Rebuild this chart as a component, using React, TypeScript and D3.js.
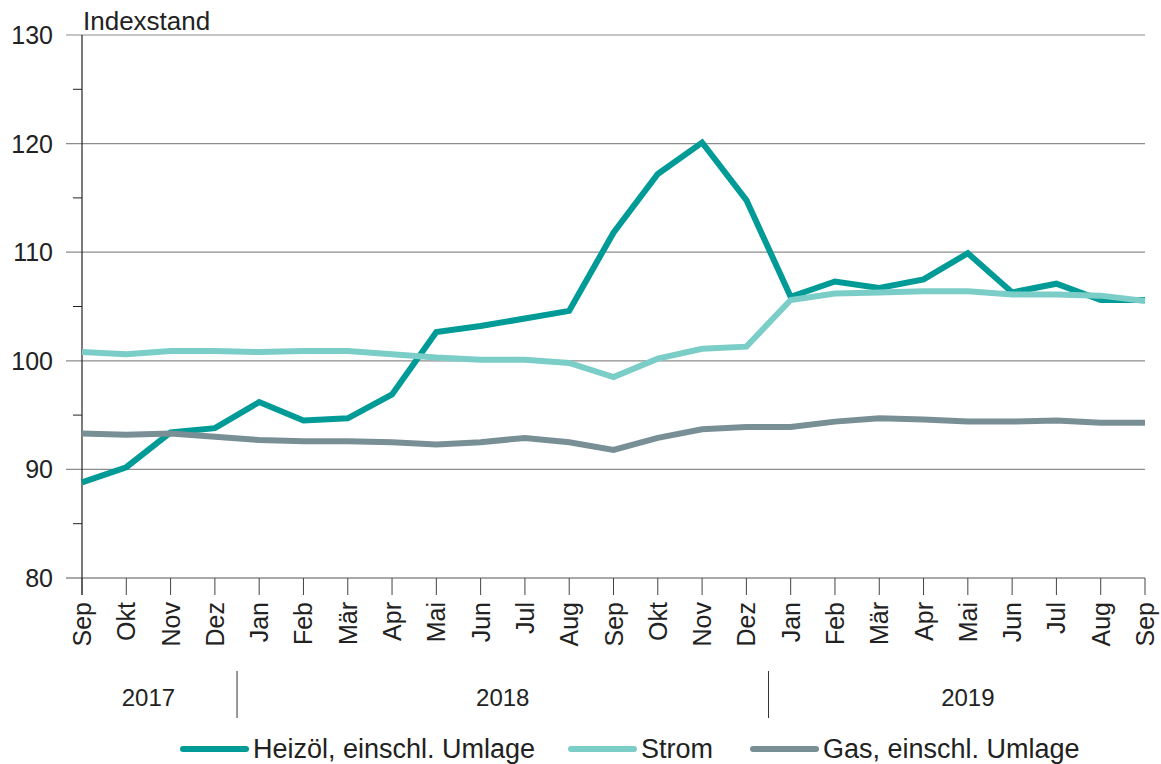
import * as React from "react";
import * as d3 from "d3";

const months = ["Sep", "Okt", "Nov", "Dez", "Jan", "Feb", "Mär", "Apr", "Mai", "Jun", "Jul", "Aug", "Sep", "Okt", "Nov", "Dez", "Jan", "Feb", "Mär", "Apr", "Mai", "Jun", "Jul", "Aug", "Sep"];
const years = [
  { label: "2017", from: 0, to: 3 },
  { label: "2018", from: 4, to: 15 },
  { label: "2019", from: 16, to: 24 },
];

const heizoel = [88.8, 90.2, 93.4, 93.8, 96.2, 94.5, 94.7, 96.9, 102.65, 103.2, 103.9, 104.6, 111.8, 117.2, 120.1, 114.8, 105.9, 107.3, 106.7, 107.5, 109.9, 106.3, 107.1, 105.6, 105.6];
const strom = [100.8, 100.6, 100.9, 100.9, 100.8, 100.9, 100.9, 100.6, 100.3, 100.1, 100.1, 99.8, 98.5, 100.2, 101.1, 101.3, 105.6, 106.2, 106.3, 106.4, 106.4, 106.1, 106.1, 106.0, 105.5];
const gas = [93.3, 93.2, 93.3, 93.0, 92.7, 92.6, 92.6, 92.5, 92.3, 92.5, 92.9, 92.5, 91.8, 92.9, 93.7, 93.9, 93.9, 94.4, 94.7, 94.6, 94.4, 94.4, 94.5, 94.3, 94.3];

const yTicks = [80, 90, 100, 110, 120, 130];
const yMinorTicks = [85, 95, 105, 115, 125];

const series = [
  { name: "Heizöl, einschl. Umlage", values: heizoel, color: "#009b96" },
  { name: "Strom", values: strom, color: "#7bcdc8" },
  { name: "Gas, einschl. Umlage", values: gas, color: "#798f96" },
];

export default function App() {
  const ref = React.useRef(null);

  React.useEffect(() => {
    const svg = d3.select(ref.current);
    svg.selectAll("*").remove();

    const font = "Liberation Sans, Arial, sans-serif";
    const left = 82;
    const right = 1145;
    const top = 35;
    const bottom = 578;

    const x = d3.scaleLinear().domain([0, months.length - 1]).range([left, right]);
    const y = d3.scaleLinear().domain([80, 130]).range([bottom, top]);

    // gridlines
    svg
      .selectAll(".grid")
      .data(yTicks)
      .enter()
      .append("line")
      .attr("x1", 66)
      .attr("x2", right)
      .attr("y1", (d) => y(d))
      .attr("y2", (d) => y(d))
      .attr("stroke", (d) => (d === 80 ? "#555" : "#8c8c8c"))
      .attr("stroke-width", 1.2);

    svg
      .selectAll(".minor")
      .data(yMinorTicks)
      .enter()
      .append("line")
      .attr("x1", 73)
      .attr("x2", left)
      .attr("y1", (d) => y(d))
      .attr("y2", (d) => y(d))
      .attr("stroke", "#222")
      .attr("stroke-width", 1);

    // y axis
    svg
      .append("line")
      .attr("x1", left)
      .attr("x2", left)
      .attr("y1", top)
      .attr("y2", bottom + 17)
      .attr("stroke", "#222")
      .attr("stroke-width", 1.2);

    svg
      .selectAll(".ylab")
      .data(yTicks)
      .enter()
      .append("text")
      .text((d) => d)
      .attr("x", 53)
      .attr("y", (d) => y(d) + 9)
      .attr("text-anchor", "end")
      .attr("font-family", font)
      .attr("font-size", 25)
      .attr("fill", "#222");

    svg
      .append("text")
      .text("Indexstand")
      .attr("x", 83)
      .attr("y", 30)
      .attr("font-family", font)
      .attr("font-size", 26)
      .attr("fill", "#222");

    // x ticks + labels
    svg
      .selectAll(".xtick")
      .data(months)
      .enter()
      .append("line")
      .attr("x1", (_d, i) => x(i))
      .attr("x2", (_d, i) => x(i))
      .attr("y1", bottom)
      .attr("y2", bottom + 17)
      .attr("stroke", "#444")
      .attr("stroke-width", 1);

    svg
      .selectAll(".xlab")
      .data(months)
      .enter()
      .append("text")
      .text((d) => d)
      .attr("transform", (_d, i) => "translate(" + (x(i) + 9) + "," + 602 + ") rotate(-90)")
      .attr("text-anchor", "end")
      .attr("font-family", font)
      .attr("font-size", 25)
      .attr("fill", "#222");

    // year labels + separators
    const step = x(1) - x(0);
    svg
      .selectAll(".ysep")
      .data(years.slice(1))
      .enter()
      .append("line")
      .attr("x1", (d) => x(d.from) - step / 2)
      .attr("x2", (d) => x(d.from) - step / 2)
      .attr("y1", 671)
      .attr("y2", 718)
      .attr("stroke", "#333")
      .attr("stroke-width", 1);

    svg
      .selectAll(".year")
      .data(years)
      .enter()
      .append("text")
      .text((d) => d.label)
      .attr("x", (d) => (x(d.from) - step / 2 + x(d.to) + step / 2) / 2)
      .attr("y", 706)
      .attr("text-anchor", "middle")
      .attr("font-family", font)
      .attr("font-size", 24)
      .attr("fill", "#222");

    // lines
    const line = d3
      .line<number>()
      .x((_d, i) => x(i))
      .y((d) => y(d));

    svg
      .selectAll(".series")
      .data(series)
      .enter()
      .append("path")
      .attr("d", (d) => line(d.values))
      .attr("fill", "none")
      .attr("stroke", (d) => d.color)
      .attr("stroke-width", 6)
      .attr("stroke-linejoin", "miter");

    // legend
    const legendX = [183, 571, 753];
    const legend = svg
      .selectAll(".legend")
      .data(series)
      .enter()
      .append("g")
      .attr("transform", (_d, i) => "translate(" + legendX[i] + ",749)");

    legend
      .append("line")
      .attr("x1", 0)
      .attr("x2", 63)
      .attr("y1", 0)
      .attr("y2", 0)
      .attr("stroke", (d) => d.color)
      .attr("stroke-width", 6)
      .attr("stroke-linecap", "round");

    legend
      .append("text")
      .text((d) => d.name)
      .attr("x", 70)
      .attr("y", 9)
      .attr("font-family", font)
      .attr("font-size", 27)
      .attr("fill", "#222");
  }, []);

  return (
    <svg
      ref={ref}
      width={1161}
      height={764}
      style={{ position: "absolute", left: 0, top: 0, background: "#fff" }}
    />
  );
}
